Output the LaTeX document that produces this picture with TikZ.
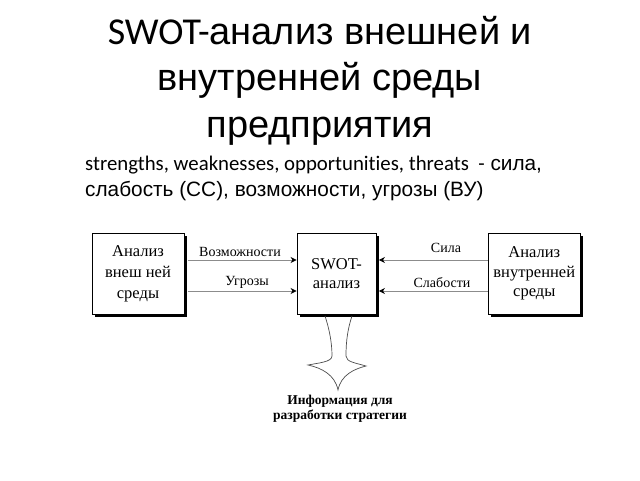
\documentclass[tikz,border=0pt]{standalone}
\usepackage{fontspec}
\setmainfont{Liberation Serif}
\newfontfamily\arialf{Liberation Sans}
\newfontfamily\calf[Ligatures=NoCommon]{Carlito}
\usetikzlibrary{arrows.meta,shadows}
\begin{document}
\begin{tikzpicture}[x=1pt,y=-1pt,
  titletext/.style={font=\arialf\fontsize{38}{44}\selectfont, anchor=base, inner sep=0pt},
  subtext/.style={font=\arialf\fontsize{20.8}{25}\selectfont, anchor=base west, inner sep=0pt},
  box/.style={draw=black, line width=0.9pt, fill=white, inner sep=0pt, align=center,
    drop shadow={shadow xshift=2.5pt, shadow yshift=-2.5pt, fill=black, opacity=1}},
  lbl/.style={font=\fontsize{14}{16}\selectfont, anchor=base, inner sep=0pt},
  conn/.style={draw=black!45, line width=0.8pt, -{Stealth[black, length=6pt, width=6pt]}},
  bigarrow/.style={draw=black!70, line width=0.7pt}
]
\useasboundingbox (0,0) rectangle (640,480);

% title
\node[titletext] (t1) at (320,44) {{\calf SWOT-}анализ внешней и};
\node[titletext] (t2) at (320,90) {внутренней среды};
\node[titletext] (t3) at (320,137) {предприятия};

% subtitle
\node[subtext] (s1) at (85,170) {{\calf strengths, weaknesses, opportunities, threats\ \ -} сила,};
\node[subtext] (s2) at (85,196) {слабость (СС), возможности, угрозы (ВУ)};

% boxes
\node[box, font=\fontsize{16.5}{21}\selectfont, minimum width=92pt, minimum height=81pt] (lbox) at (138,273.5)
  {Анализ\\внеш ней\\среды};
\node[box, font=\fontsize{16.5}{19.5}\selectfont, minimum width=79pt, minimum height=81pt] (cbox) at (336.5,273.5)
  {SWOT-\\анализ};
\node[box, font=\fontsize{16.5}{19.5}\selectfont, minimum width=92.5pt, minimum height=81pt] (rbox) at (534.25,273.5)
  {Анализ\\внутренней\\среды};

% arrow levels
\coordinate (a1) at (0,260);
\coordinate (a2) at (0,291);

\draw[conn, shorten <=3.5pt] (lbox.east |- a1) -- (cbox.west |- a1);
\draw[conn, shorten <=3.5pt] (lbox.east |- a2) -- (cbox.west |- a2);
\draw[conn, shorten >=2.5pt] (rbox.west |- a1) -- (cbox.east |- a1);
\draw[conn, shorten >=2.5pt] (rbox.west |- a2) -- (cbox.east |- a2);

\node[lbl] (lv) at (240,256) {Возможности};
\node[lbl] (lu) at (247,285) {Угрозы};
\node[lbl] (ls) at (446,252) {Сила};
\node[lbl] (lsl) at (442,287) {Слабости};

% big downward arrow
\draw[bigarrow] (325,316)
  .. controls (329,328) and (332,342) .. (332,356)
  .. controls (332,362) and (318,363) .. (308,365)
  .. controls (322,368) and (335,375) .. (338,390)
  .. controls (341,375) and (354,369) .. (366,366)
  .. controls (356,363) and (346,362) .. (346,356)
  .. controls (346,340) and (348,328) .. (352,316);

\node[font=\bfseries\fontsize{13.5}{15}\selectfont, align=center, anchor=base, inner sep=0pt] (info) at (340,419)
  {Информация для\\разработки стратегии};
\end{tikzpicture}
\end{document}
